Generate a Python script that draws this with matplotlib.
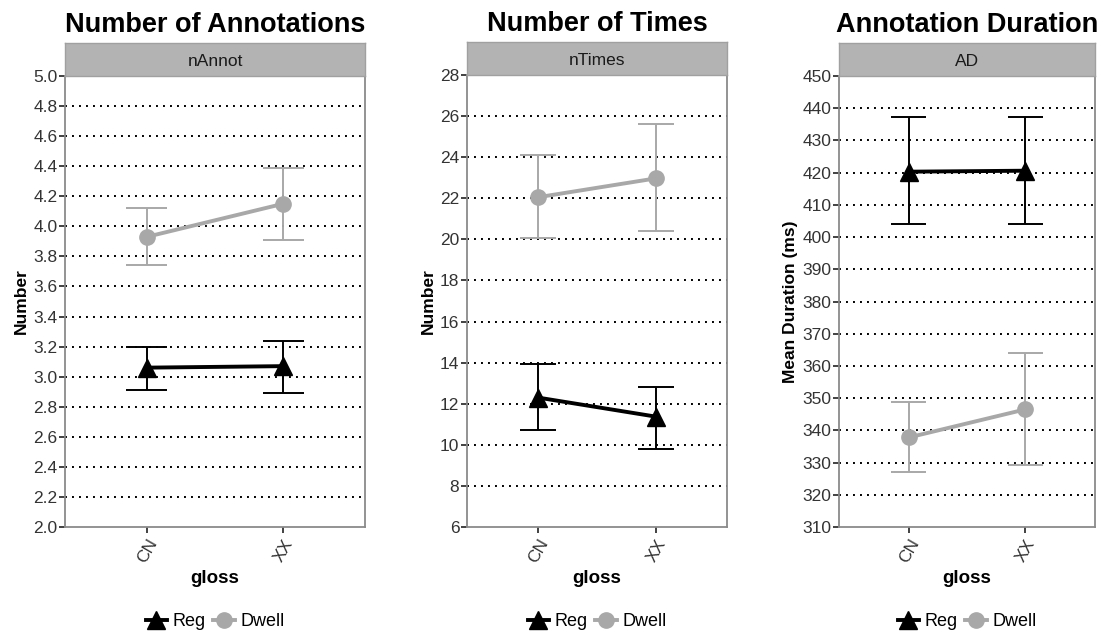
import matplotlib
matplotlib.use('Agg')
import matplotlib.pyplot as plt
from matplotlib.lines import Line2D
import numpy as np

plt.rcParams['font.family'] = ['Liberation Sans', 'DejaVu Sans']

# data
gloss = ['CN', 'XX']

titles = ['Number of Annotations', 'Number of Times', 'Annotation Duration']
strips = ['nAnnot', 'nTimes', 'AD']
ylabels = ['Number', 'Number', 'Mean Duration (ms)']

reg_mean = [[3.06, 3.07], [12.3, 11.37], [420.3, 420.6]]
reg_lo = [[2.91, 2.89], [10.72, 9.80], [404.1, 404.1]]
reg_hi = [[3.20, 3.24], [13.92, 12.83], [437.2, 437.2]]

dwell_mean = [[3.93, 4.15], [22.05, 22.97], [337.8, 346.5]]
dwell_lo = [[3.74, 3.91], [20.05, 20.41], [327.2, 329.1]]
dwell_hi = [[4.12, 4.39], [24.11, 25.60], [348.9, 364.1]]

yranges = [(2.0, 5.0, 0.2), (6, 28, 2), (310, 450, 10)]
yfmt = ['{:.1f}', '{:.0f}', '{:.0f}']

REG = 'black'
DWELL = '#a8a8a8'
FRAME = '#8a8a8a'
TXT = '#333333'

W, H = 1107, 635
fig = plt.figure(figsize=(W / 100, H / 100), dpi=100)

# panel boxes in pixels: left, right, top, bottom
boxes = [(65, 365, 76, 527), (467, 727, 75, 527), (839, 1095, 76, 527)]
strip_h = 33

x = np.arange(len(gloss))
cap = 0.15

for i, (l, r, t, b) in enumerate(boxes):
    ax = fig.add_axes([l / W, 1 - b / H, (r - l) / W, (b - t) / H])
    lo_, hi_, step = yranges[i]
    ticks = np.arange(lo_, hi_ + step / 2, step)
    ax.set_ylim(lo_, hi_)
    ax.set_xlim(-0.6, 1.6)
    ax.set_yticks(ticks)
    ax.set_yticklabels([yfmt[i].format(v) for v in ticks])
    ax.set_xticks(x)
    ax.set_xticklabels(gloss, rotation=60, ha='right', va='top',
                       rotation_mode='anchor')
    ax.tick_params(axis='both', colors=TXT, labelsize=12.5, length=4,
                   width=1.3, pad=1.5, labelcolor=TXT)
    ax.tick_params(axis='x', pad=3)
    for sp in ax.spines.values():
        sp.set_color(FRAME)
        sp.set_linewidth(1.3)
    for v in ticks[1:-1]:
        ax.axhline(v, color='black', lw=1.4, linestyle=(0, (1, 2.6)), zorder=1)

    # dwell series
    ax.vlines(x, dwell_lo[i], dwell_hi[i], color=DWELL, lw=1.4, zorder=3)
    ax.hlines(dwell_lo[i], x - cap, x + cap, color=DWELL, lw=1.4, zorder=3)
    ax.hlines(dwell_hi[i], x - cap, x + cap, color=DWELL, lw=1.4, zorder=3)
    ax.plot(x, dwell_mean[i], color=DWELL, lw=2.8, marker='o', ms=11,
            zorder=4)
    # reg series
    ax.vlines(x, reg_lo[i], reg_hi[i], color=REG, lw=1.4, zorder=5)
    ax.hlines(reg_lo[i], x - cap, x + cap, color=REG, lw=1.4, zorder=5)
    ax.hlines(reg_hi[i], x - cap, x + cap, color=REG, lw=1.4, zorder=5)
    ax.plot(x, reg_mean[i], color=REG, lw=2.8, marker='^', ms=13, zorder=6)

    ax.set_xlabel('gloss', fontsize=13.5, fontweight='bold', color='black')
    ax.xaxis.set_label_coords(0.5, (b - 570) / (b - t))
    ax.set_ylabel(ylabels[i], fontsize=12.5, fontweight='bold', color='black',
                  labelpad=3)

    # facet strip
    sax = fig.add_axes([l / W, 1 - t / H, (r - l) / W, strip_h / H])
    sax.set_facecolor('#b3b3b3')
    sax.set_xticks([])
    sax.set_yticks([])
    for sp in sax.spines.values():
        sp.set_color('#a0a0a0')
        sp.set_linewidth(1)
    sax.text(0.5, 0.45, strips[i], ha='center', va='center', fontsize=12.5,
             color='#1a1a1a', transform=sax.transAxes)
    sax.set_title(titles[i], fontsize=19.5, fontweight='bold', pad=8)

    handles = [Line2D([], [], color=REG, lw=2.8, marker='^', ms=13),
               Line2D([], [], color=DWELL, lw=2.8, marker='o', ms=11)]
    ax.legend(handles, ['Reg', 'Dwell'], loc='center', ncol=2,
              bbox_to_anchor=(0.5, (b - 622) / (b - t)), frameon=False,
              fontsize=13, handlelength=1.2, handletextpad=0.3,
              columnspacing=0.4)

fig.savefig('out.png', dpi=100)
